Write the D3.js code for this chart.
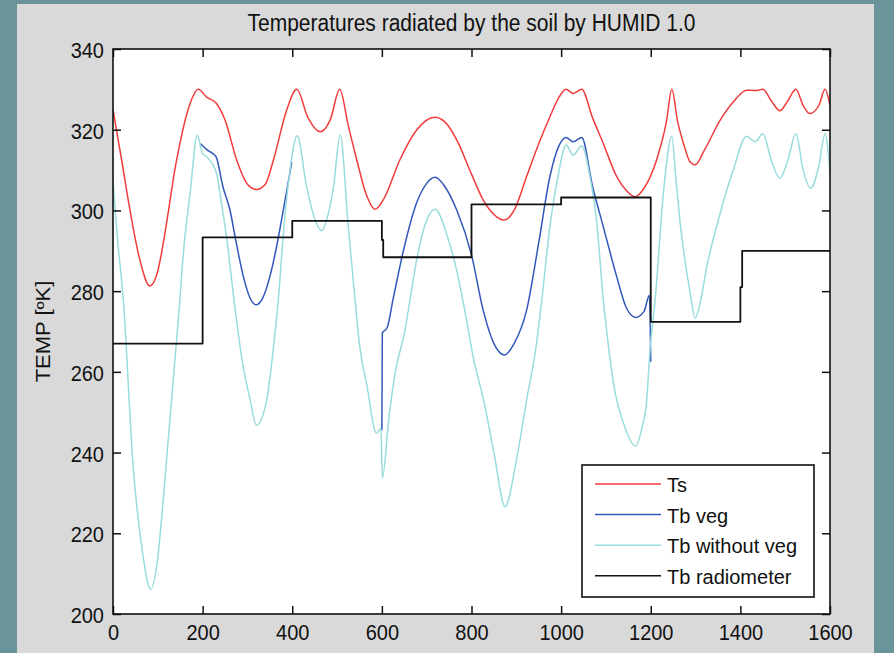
<!DOCTYPE html>
<html>
<head>
<meta charset="utf-8">
<script src="https://cdn.jsdelivr.net/npm/d3@7"></script>
<style>
  body { margin: 0; background: #6a949a; }
  svg { display: block; }
  text { font-family: "Liberation Sans", Arial, sans-serif; fill: #111; }
</style>
</head>
<body>
<div id="chart"></div>
<script>
// chart data (time step, temperature in K)
const xTicks = [0, 200, 400, 600, 800, 1000, 1200, 1400, 1600];
const yTicks = [200, 220, 240, 260, 280, 300, 320, 340];

const seriesNames = ['Ts', 'Tb veg', 'Tb without veg', 'Tb radiometer'];

const ts = [[0,325],[20,312],[38,300],[60,287.7],[82,281.3],[100,285],[112,291.8],[142,312.5],[172,326.5],[190,330],
  [210,328],[231,326.5],[250,322.4],[276,312.5],[300,306.5],[320,305.2],[340,306.5],[358,312.5],[388,325],[410,330],
  [435,323],[463,319.5],[485,322.5],[506,330],[525,321],[544,312.5],[565,304],[585,300.3],[605,303],[640,312.5],
  [678,320],[718,323.1],[740,322],[767,317.5],[800,309],[826,302.6],[850,299],[873,297.6],[895,300],[923,308.4],
  [950,316.5],[975,323.2],[995,328],[1011,330],[1027,329],[1046,330],[1070,323],[1094,316.6],[1124,308.4],[1145,305],
  [1165,303.4],[1185,305.5],[1213,312.5],[1235,322],[1247,330],[1260,322],[1273,316.6],[1288,312],[1299,311.3],[1320,315],
  [1355,322.4],[1385,327],[1414,329.8],[1433,329.7],[1450,330],[1470,327],[1488,324.7],[1505,327],[1524,330],[1540,326],
  [1555,324],[1575,326],[1589,330],[1600,326]];

// Tb veg has two pieces, null marks the gap
const tbVeg = [[195,316.6],[210,315],[230,313.3],[245,306],[261,300.1],[275,292],[291,283.6],[305,278.5],[320,276.6],[335,278.5],
  [350,283.6],[365,291],[380,300.1],[399,312],null,
  [600,245.5],[601,269.6],[612,271],[625,278],[648,290],[678,302],[700,306.7],[719,308.2],[740,306],[767,300.1],
  [800,289],[826,275.3],[850,267],[873,264.2],[895,267],[923,275.3],[950,292],[975,308.4],[995,316],[1011,318.1],
  [1027,317],[1046,318.1],[1070,306],[1094,296],[1124,283.6],[1145,276],[1166,273.5],[1185,275],[1197,279],[1200,262.5]];

const tbNoVeg = [[0,307],[10,293],[23,277.8],[45,236.5],[65,216],[84,206.1],[100,214],[112,228.3],[145,272],[160,293],
  [172,304.2],[188,318.7],[200,314],[209,313.3],[231,309.2],[239,304],[255,292],[270,277.8],[288,263],[306,253],
  [320,246.8],[343,253],[358,266],[369,278],[380,294],[395,310],[411,318.5],[432,305.9],[450,298],[465,295],
  [480,299],[492,305.9],[507,318.7],[525,296],[540,278],[551,266],[566,257],[588,244.8],[598,246],[601,233.6],
  [615,248],[630,260],[651,270],[663,278],[678,288],[700,297.6],[719,300.3],[745,294],[765,286],[782,277],
  [805,263],[827,253],[850,240],[875,226.6],[900,238],[923,253],[945,267],[957,278],[975,296],[994,309],
  [1011,316.2],[1027,313.7],[1046,316],[1065,308],[1079,297.6],[1094,278],[1105,267],[1117,257],[1140,247],[1166,241.6],
  [1180,246],[1191,253],[1198,265],[1210,278],[1228,304],[1247,318.4],[1256,308],[1265,297.6],[1288,279.5],[1299,273.3],
  [1310,277],[1325,286],[1355,299.3],[1384,310],[1414,318.4],[1433,317],[1450,319],[1470,312],[1488,308],[1505,312],
  [1524,319],[1540,310],[1557,305.5],[1575,311],[1589,319],[1600,309.2]];

const tbRadio = [[0,267],[200,267],[200,293.3],[400,293.3],[400,297.4],[600,297.4],[600,292.7],[603,292.7],[603,288.4],
  [800,288.4],[800,301.5],[1000,301.5],[1000,303.2],[1200,303.2],[1200,272.4],[1400,272.4],[1400,281],[1404,281],
  [1404,290],[1600,290]];

const colors = ['#f23c3c', '#3158ba', '#99dcdc', '#111111'];

// Set the dimensions of the chart
const W = 894, H = 653;
const margin = { top: 49, right: 64, bottom: 39, left: 113 };
const width = W - margin.left - margin.right;
const height = H - margin.top - margin.bottom;
const stretch = 1.1; // text in the reference is a bit tall

const svg = d3.select('#chart')
  .append('svg')
  .attr('width', W)
  .attr('height', H);

// gray figure panel
svg.append('rect')
  .attr('x', 17).attr('y', 4)
  .attr('width', 857).attr('height', H)
  .attr('fill', '#d9d9d9');

const g = svg.append('g')
  .attr('transform', `translate(${margin.left}, ${margin.top})`);

const xScale = d3.scaleLinear().domain([0, 1600]).range([0, width]);
const yScale = d3.scaleLinear().domain([200, 340]).range([height, 0]);

g.append('rect')
  .attr('width', width).attr('height', height)
  .attr('fill', '#fff');

g.append('clipPath').attr('id', 'plot-clip')
  .append('rect').attr('width', width).attr('height', height);

// smooth curves for the model output, straight steps for the radiometer
const smoothLine = d3.line()
  .defined(d => d !== null)
  .x(d => xScale(d[0]))
  .y(d => yScale(d[1]))
  .curve(d3.curveMonotoneX);

const stepLine = d3.line()
  .x(d => xScale(d[0]))
  .y(d => yScale(d[1]));

const plot = g.append('g').attr('clip-path', 'url(#plot-clip)');

[ts, tbVeg, tbNoVeg, tbRadio].forEach((data, i) => {
  plot.append('path')
    .datum(data)
    .attr('fill', 'none')
    .attr('stroke', colors[i])
    .attr('stroke-width', i == 3 ? 1.8 : 1.5)
    .attr('stroke-linejoin', 'round')
    .attr('d', i == 3 ? stepLine : smoothLine);
});

// axes, ticks point inward on all four sides
const xAxis = d3.axisBottom(xScale).tickValues(xTicks).tickFormat(d3.format('d')).tickSizeInner(-8).tickSizeOuter(0);
const yAxis = d3.axisLeft(yScale).tickValues(yTicks).tickFormat(d3.format('d')).tickSizeInner(-8).tickSizeOuter(0);

const gx = g.append('g')
  .attr('transform', `translate(0, ${height})`)
  .call(xAxis);
gx.selectAll('text')
  .attr('y', 0).attr('dy', 0)
  .attr('transform', `translate(0, 26) scale(1, ${stretch})`);

const gy = g.append('g').call(yAxis);
gy.selectAll('text')
  .attr('x', 0).attr('dy', 0)
  .attr('transform', `translate(-9, 8.5) scale(1, ${stretch})`);

g.append('g').call(d3.axisTop(xScale).tickValues(xTicks).tickSizeInner(-8).tickSizeOuter(0).tickFormat(''));
g.append('g').attr('transform', `translate(${width}, 0)`)
  .call(d3.axisRight(yScale).tickValues(yTicks).tickSizeInner(-8).tickSizeOuter(0).tickFormat(''));

g.selectAll('.domain').remove();
g.selectAll('.tick line').attr('stroke', '#111').attr('stroke-width', 1.5);
g.selectAll('.tick text').style('font-size', '20px').attr('fill', '#111');

// frame
g.append('rect')
  .attr('width', width).attr('height', height)
  .attr('fill', 'none')
  .attr('stroke', '#111')
  .attr('stroke-width', 1.6);

// title
svg.append('text')
  .attr('transform', `translate(${margin.left + width / 2}, 31) scale(1, ${stretch})`)
  .attr('text-anchor', 'middle')
  .style('font-size', '21px')
  .text('Temperatures radiated by the soil by HUMID 1.0');

// y label
svg.append('text')
  .attr('transform', `translate(50, ${margin.top + height / 2}) scale(1, ${stretch}) rotate(-90)`)
  .attr('text-anchor', 'middle')
  .style('font-size', '20px')
  .text('TEMP [ºK]');

// legend
const legend = svg.append('g').attr('transform', 'translate(582, 465)');
legend.append('rect')
  .attr('width', 232).attr('height', 132)
  .attr('fill', '#fff')
  .attr('stroke', '#111')
  .attr('stroke-width', 1.6);

seriesNames.forEach((name, i) => {
  const yy = 19 + i * 30.6;
  legend.append('line')
    .attr('x1', 13).attr('x2', 79)
    .attr('y1', yy).attr('y2', yy)
    .attr('stroke', colors[i])
    .attr('stroke-width', 1.5);
  legend.append('text')
    .attr('x', 85).attr('y', yy + 8)
    .style('font-size', '20px')
    .text(name);
});
</script>
</body>
</html>
